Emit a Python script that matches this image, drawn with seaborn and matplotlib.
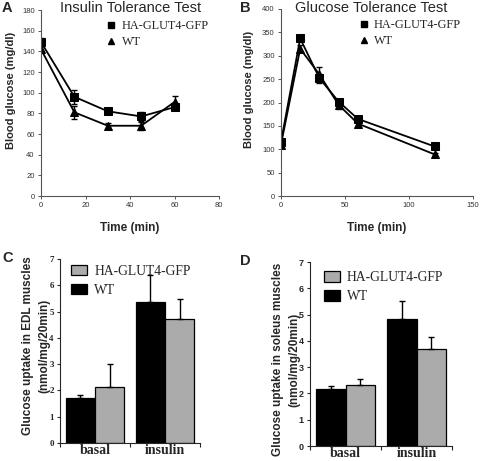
import numpy as np
import pandas as pd
import seaborn as sns
import matplotlib.pyplot as plt
from matplotlib.patches import Patch
from matplotlib.lines import Line2D

sns.set_style("ticks")
plt.rcParams['font.family'] = ['Liberation Sans', 'DejaVu Sans']

groups = ["HA-GLUT4-GFP", "WT"]

# A: insulin tolerance test
itt_time = [0, 15, 30, 45, 60]
itt_ha = [149, 96, 82, 77, 86]
itt_ha_err = [4, 7, 3, 4, 3]
itt_wt = [142, 81, 68, 68, 91]
itt_wt_err = [3, 6, 3, 4, 6]

# B: glucose tolerance test
gtt_time = [0, 15, 30, 45, 60, 120]
gtt_ha = [116, 337, 252, 202, 165, 106]
gtt_ha_err = [5, 6, 10, 6, 5, 4]
gtt_wt = [110, 315, 260, 195, 155, 89]
gtt_wt_err = [5, 8, 15, 8, 5, 4]

# C/D: glucose uptake
conditions = ["basal", "insulin"]
edl_wt = [1.72, 5.35]
edl_wt_err = [0.12, 1.05]
edl_ha = [2.12, 4.72]
edl_ha_err = [0.9, 0.75]
sol_wt = [2.18, 4.83]
sol_wt_err = [0.12, 0.7]
sol_ha = [2.32, 3.68]
sol_ha_err = [0.22, 0.48]

fig = plt.figure(figsize=(4.8, 4.61), dpi=100)
axA = fig.add_axes([0.0854, 0.5748, 0.371, 0.4035])
axB = fig.add_axes([0.5854, 0.5748, 0.400, 0.4057])
axC = fig.add_axes([0.125, 0.039, 0.2917, 0.399])
axD = fig.add_axes([0.6458, 0.0325, 0.296, 0.399])

serif = ['Liberation Serif', 'DejaVu Serif']
markers = {"HA-GLUT4-GFP": "s", "WT": "^"}


def tolerance_panel(ax, t, ha, ha_err, wt, wt_err, ylim, yticks, xlim, xticks):
    df = pd.DataFrame({
        "time": t + t,
        "glucose": ha + wt,
        "group": [groups[0]] * len(t) + [groups[1]] * len(t),
    })
    for g, y, e in [(groups[0], ha, ha_err), (groups[1], wt, wt_err)]:
        ax.errorbar(t, y, yerr=e, fmt="none", ecolor="black", elinewidth=1, capsize=2)
    sns.lineplot(data=df, x="time", y="glucose", hue="group", style="group",
                 markers=markers, dashes=False, palette=["black", "black"],
                 markersize=5.5, markeredgecolor="black", linewidth=1.3,
                 legend=False, ax=ax)
    ax.set_xlim(*xlim)
    ax.set_ylim(*ylim)
    ax.set_xticks(xticks)
    ax.set_yticks(yticks)
    ax.tick_params(labelsize=5.5, labelcolor="#333333", length=2.5, width=0.7,
                   color="#555555", pad=2)
    for s in ["left", "bottom"]:
        ax.spines[s].set_linewidth(0.8)
        ax.spines[s].set_color("#555555")
    sns.despine(ax=ax)
    ax.set_xlabel("Time (min)", fontsize=8.5, fontweight="bold", labelpad=9)
    ax.set_ylabel("Blood glucose (mg/dl)", fontsize=8, fontweight="bold")
    handles = [Line2D([], [], color="black", marker=markers[g], linestyle="none",
                      markersize=4.5) for g in groups]
    ax.legend(handles, groups, loc="upper left", bbox_to_anchor=(0.34, 0.97),
              frameon=False, prop={"family": serif, "size": 8.8},
              handlelength=0.8, handletextpad=0.45, labelspacing=0.3,
              borderaxespad=0)


tolerance_panel(axA, itt_time, itt_ha, itt_ha_err, itt_wt, itt_wt_err,
                (0, 180), range(0, 181, 20), (0, 80), range(0, 81, 20))
axA.yaxis.set_label_coords(-0.14, 0.57)
tolerance_panel(axB, gtt_time, gtt_ha, gtt_ha_err, gtt_wt, gtt_wt_err,
                (0, 400), range(0, 401, 50), (0, 150), range(0, 151, 50))
axB.yaxis.set_label_coords(-0.14, 0.57)
axB.get_legend().set_bbox_to_anchor((0.38, 0.97))

fig.text(131 / 480, 1 - 8 / 461, "Insulin Tolerance Test", fontsize=10.5,
         ha="center", va="center")
fig.text(371 / 480, 1 - 8 / 461, "Glucose Tolerance Test", fontsize=10.5,
         ha="center", va="center")


def uptake_panel(ax, wt, wt_err, ha, ha_err, ylabel, tickfam):
    df = pd.DataFrame({
        "condition": conditions * 2,
        "uptake": wt + ha,
        "group": ["WT"] * 2 + ["HA-GLUT4-GFP"] * 2,
    })
    sns.barplot(data=df, x="condition", y="uptake", hue="group",
                hue_order=["WT", "HA-GLUT4-GFP"], palette=["black", "#ababab"],
                edgecolor="black", linewidth=0.9, width=0.83, errorbar=None,
                legend=False, ax=ax)
    for cont, err in zip(ax.containers, [wt_err, ha_err]):
        xs = [p.get_x() + p.get_width() / 2 for p in cont]
        hs = [p.get_height() for p in cont]
        ax.errorbar(xs, hs, yerr=[np.zeros(len(err)), err], fmt="none",
                    ecolor="black", elinewidth=1, capsize=2.2, capthick=1)
    ax.set_xlim(-0.5, 1.5)
    ax.set_ylim(0, 7)
    ax.set_yticks(range(0, 8))
    ax.set_xticks([-0.5, 0.5, 1.5], minor=True)
    ax.tick_params(axis="x", which="major", length=0, pad=0.5)
    ax.tick_params(axis="x", which="minor", length=3, width=0.8)
    ax.tick_params(axis="y", length=2.5, width=0.8, pad=2)
    for lab in ax.get_xticklabels():
        lab.set_family(serif)
        lab.set_fontsize(10)
        lab.set_fontweight("bold")
    for lab in ax.get_yticklabels():
        lab.set_family(tickfam)
        lab.set_fontsize(6.5)
        lab.set_fontweight("bold")
    sns.despine(ax=ax)
    for s in ["left", "bottom"]:
        ax.spines[s].set_linewidth(0.8)
    ax.set_xlabel("")
    ax.set_ylabel(ylabel, fontsize=8.5, fontweight="bold", linespacing=1.45)
    handles = [Patch(facecolor="#ababab", edgecolor="black", linewidth=0.9),
               Patch(facecolor="black", edgecolor="black", linewidth=0.9)]
    ax.legend(handles, groups, loc="upper left", bbox_to_anchor=(0.04, 1.0),
              frameon=False, prop={"family": serif, "size": 9.8},
              handlelength=1.2, handleheight=0.8, handletextpad=0.5,
              labelspacing=0.45, borderaxespad=0)


uptake_panel(axC, edl_wt, edl_wt_err, edl_ha, edl_ha_err,
             "Glucose uptake in EDL muscles\n(nmol/mg/20min)", serif)
axC.yaxis.set_label_coords(-0.07, 0.53)
uptake_panel(axD, sol_wt, sol_wt_err, sol_ha, sol_ha_err,
             "Glucose uptake in soleus muscles\n(nmol/mg/20min)",
             ['Liberation Sans', 'DejaVu Sans'])
axD.yaxis.set_label_coords(-0.07, 0.47)
axD.get_legend().set_bbox_to_anchor((0.06, 0.98))

for letter, x, y in [("A", 0.003, 0.998), ("B", 0.500, 0.998),
                     ("C", 0.005, 0.455), ("D", 0.500, 0.45)]:
    fig.text(x, y, letter, fontsize=10.5, fontweight="bold", va="top")

fig.savefig("out.png", dpi=100)
